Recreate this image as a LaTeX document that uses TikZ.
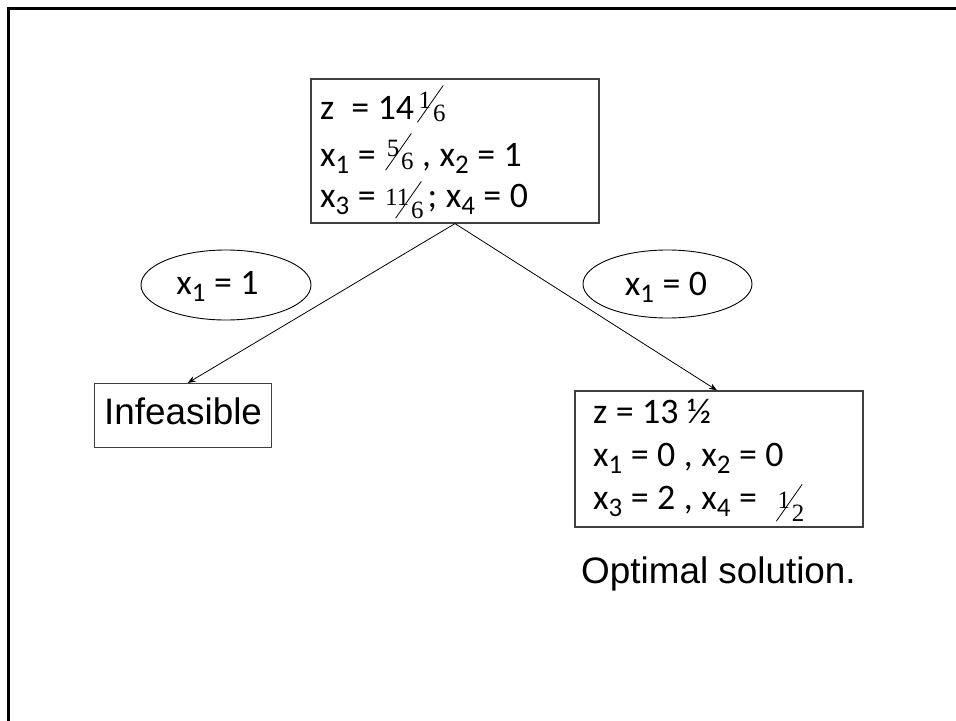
\documentclass[tikz,border=0pt]{standalone}
\usepackage{fontspec}
\usepackage{graphicx}
\setmainfont[WordSpace=1.05]{Carlito}
\newfontfamily\arialf{Liberation Sans}
\newfontfamily\timesf{Liberation Serif}
\usetikzlibrary{arrows.meta,shapes.geometric}

% lowered subscript digit
\newcommand\sbs[1]{\raisebox{-7bp}{\fontsize{27}{27}\selectfont#1}}
% small serif digits for the slanted fractions
\newcommand\frn{\timesf\fontsize{25}{25}\selectfont}
% slanted fraction: [drop of the slash foot below the baseline]{numerator}{denominator}
\newcommand\slfrac[3][2bp]{%
  \raisebox{-#1}{\rotatebox{-35}{\rule{0.8bp}{45bp}}}%
  \kern-12.5bp\llap{\raisebox{\dimexpr13bp-#1\relax}{\frn#2}}%
  \kern2bp\raisebox{-#1}{\frn#3}}

\tikzset{
  frame/.style={line width=2.5bp, black},
  box/.style={draw=black!75, line width=1.2bp, rectangle, inner sep=0pt},
  oval/.style={draw, ellipse, line width=0.9bp, inner sep=0pt},
  txt/.style={inner sep=0pt, anchor=base west, font=\fontsize{36}{42}\selectfont},
  sans/.style={inner sep=0pt, font=\arialf\fontsize{37}{37}\selectfont},
  link/.style={line width=0.8bp, -{Stealth[length=8bp,width=6bp]}},
}

\begin{document}
\begin{tikzpicture}[x=1bp,y=-1bp]
\useasboundingbox (0,0) rectangle (956,721);

% slide frame
\draw[frame] (8.3,725) -- (8.3,8.3) -- (960,8.3);

% root relaxation
\node[box, minimum width=288bp, minimum height=144bp] (root) at (455,151) {};
\node[txt] (r1) at (320,120) {z\ \ = 14\kern3bp\slfrac{1}{6}};
\node[txt] (r2) at (320,167) {x\sbs{1} = \kern1bp\slfrac[3bp]{5}{6}\ , x\sbs{2} = 1};
\node[txt] (r3) at (320,207) {x\sbs{3} = \kern11bp\slfrac[11bp]{11}{6}\kern4bp; x\sbs{4} = 0};

% branching conditions
\node[oval, minimum width=170bp, minimum height=70bp] (e1) at (226,285) {};
\node[txt, anchor=base] (c1) at (217.5,294) {x\sbs{1} = 1};
\node[oval, minimum width=169bp, minimum height=68bp] (e0) at (667.5,284) {};
\node[txt, anchor=base] (c0) at (666,295) {x\sbs{1} = 0};

% left child
\node[box, sans, minimum width=177bp, text height=41bp, text depth=23bp,
      anchor=north west] (inf) at (94,383) {Infeasible};

% right child
\node[box, minimum width=288bp, minimum height=136bp] (opt) at (719,459) {};
\node[txt] (o1) at (593,423) {z = 13 ½};
\node[txt] (o2) at (593,466) {x\sbs{1} = 0 , x\sbs{2} = 0};
\node[txt] (o3) at (593,509) {x\sbs{3} = 2 , x\sbs{4} = \ \kern2bp\slfrac[12bp]{1}{2}};

\node[sans, anchor=base west] (note) at (581,583) {Optimal solution.};

% branches
\draw[link] (root.south) -- ([xshift=4.5bp]inf.north);
\draw[link] (root.south) -- ([xshift=-2bp]opt.north);
\end{tikzpicture}
\end{document}
